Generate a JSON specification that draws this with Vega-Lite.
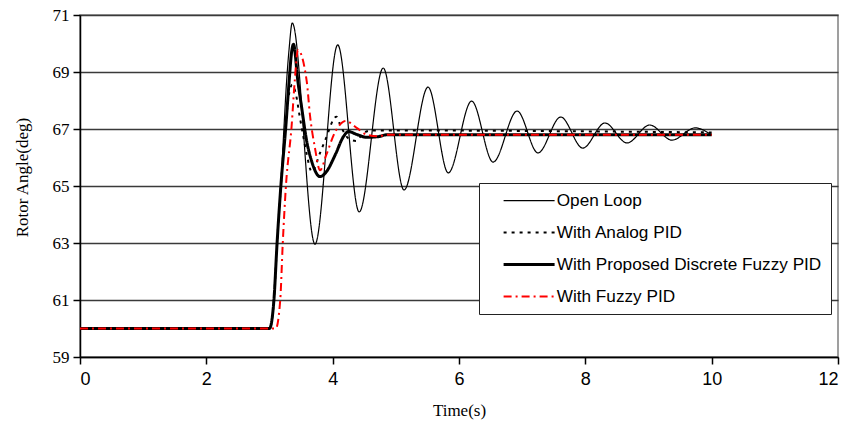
{
  "$schema": "https://vega.github.io/schema/vega-lite/v6.json",
  "width": 758,
  "height": 342,
  "autosize": {"type": "none"},
  "padding": {"left": 80, "top": 15, "right": 13, "bottom": 72},
  "background": "white",
  "config": {
    "view": {"stroke": "#808080", "strokeWidth": 1.5},
    "axis": {"labelColor": "black", "titleColor": "black", "domainColor": "black", "tickColor": "black", "domainWidth": 1.5, "tickWidth": 1.5, "tickSize": 7, "titleFontWeight": "normal"},
    "legend": {"orient": "none", "legendX": 399, "legendY": 168, "title": null, "strokeColor": "#222", "fillColor": "white", "padding": 9, "symbolType": "M-4.25,0H4.25", "symbolSize": 144, "symbolOffset": 32.5, "labelFont": "Liberation Sans", "labelFontSize": 17.2, "labelColor": "black", "labelOffset": 19, "rowPadding": 14, "labelLimit": 400}
  },
  "datasets": {
    "curves": [
      {"t": 0, "v": 60, "s": "Open Loop"},
      {"t": 3.0, "v": 60, "s": "Open Loop"},
      {"t": 3.07, "v": 61, "s": "Open Loop"},
      {"t": 3.12, "v": 63, "s": "Open Loop"},
      {"t": 3.18, "v": 65, "s": "Open Loop"},
      {"t": 3.23, "v": 67.1, "s": "Open Loop"},
      {"t": 3.27, "v": 68.65, "s": "Open Loop"},
      {"t": 3.31, "v": 69.8, "s": "Open Loop"},
      {"t": 3.36, "v": 70.72, "s": "Open Loop"},
      {"t": 3.72, "v": 62.96, "s": "Open Loop"},
      {"t": 4.08, "v": 69.95, "s": "Open Loop"},
      {"t": 4.42, "v": 64.09, "s": "Open Loop"},
      {"t": 4.80, "v": 69.14, "s": "Open Loop"},
      {"t": 5.13, "v": 64.86, "s": "Open Loop"},
      {"t": 5.51, "v": 68.47, "s": "Open Loop"},
      {"t": 5.83, "v": 65.46, "s": "Open Loop"},
      {"t": 6.2, "v": 67.98, "s": "Open Loop"},
      {"t": 6.54, "v": 65.84, "s": "Open Loop"},
      {"t": 6.92, "v": 67.63, "s": "Open Loop"},
      {"t": 7.25, "v": 66.16, "s": "Open Loop"},
      {"t": 7.61, "v": 67.42, "s": "Open Loop"},
      {"t": 7.96, "v": 66.33, "s": "Open Loop"},
      {"t": 8.31, "v": 67.21, "s": "Open Loop"},
      {"t": 8.66, "v": 66.51, "s": "Open Loop"},
      {"t": 9.02, "v": 67.14, "s": "Open Loop"},
      {"t": 9.37, "v": 66.61, "s": "Open Loop"},
      {"t": 9.74, "v": 67.04, "s": "Open Loop"},
      {"t": 10.0, "v": 66.79, "s": "Open Loop"},

      {"t": 0, "v": 60, "s": "With Analog PID"},
      {"t": 3.0, "v": 60, "s": "With Analog PID"},
      {"t": 3.07, "v": 61, "s": "With Analog PID"},
      {"t": 3.12, "v": 63, "s": "With Analog PID"},
      {"t": 3.18, "v": 65, "s": "With Analog PID"},
      {"t": 3.25, "v": 67.0, "s": "With Analog PID"},
      {"t": 3.30, "v": 68.1, "s": "With Analog PID"},
      {"t": 3.36, "v": 68.55, "s": "With Analog PID"},
      {"t": 3.42, "v": 68.2, "s": "With Analog PID"},
      {"t": 3.47, "v": 67.55, "s": "With Analog PID"},
      {"t": 3.53, "v": 66.8, "s": "With Analog PID"},
      {"t": 3.59, "v": 66.1, "s": "With Analog PID"},
      {"t": 3.67, "v": 65.5, "s": "With Analog PID"},
      {"t": 3.80, "v": 66.16, "s": "With Analog PID"},
      {"t": 3.88, "v": 66.6, "s": "With Analog PID"},
      {"t": 4.06, "v": 67.43, "s": "With Analog PID"},
      {"t": 4.12, "v": 67.14, "s": "With Analog PID"},
      {"t": 4.25, "v": 66.67, "s": "With Analog PID"},
      {"t": 4.37, "v": 66.58, "s": "With Analog PID"},
      {"t": 4.48, "v": 66.85, "s": "With Analog PID"},
      {"t": 4.62, "v": 66.95, "s": "With Analog PID"},
      {"t": 10.0, "v": 66.88, "s": "With Analog PID"},

      {"t": 0, "v": 60, "s": "With Proposed Discrete Fuzzy PID"},
      {"t": 3.0, "v": 60, "s": "With Proposed Discrete Fuzzy PID"},
      {"t": 3.07, "v": 61, "s": "With Proposed Discrete Fuzzy PID"},
      {"t": 3.12, "v": 63, "s": "With Proposed Discrete Fuzzy PID"},
      {"t": 3.18, "v": 65, "s": "With Proposed Discrete Fuzzy PID"},
      {"t": 3.26, "v": 67.14, "s": "With Proposed Discrete Fuzzy PID"},
      {"t": 3.31, "v": 68.66, "s": "With Proposed Discrete Fuzzy PID"},
      {"t": 3.35, "v": 69.7, "s": "With Proposed Discrete Fuzzy PID"},
      {"t": 3.38, "v": 69.97, "s": "With Proposed Discrete Fuzzy PID"},
      {"t": 3.45, "v": 68.66, "s": "With Proposed Discrete Fuzzy PID"},
      {"t": 3.51, "v": 67.74, "s": "With Proposed Discrete Fuzzy PID"},
      {"t": 3.59, "v": 66.56, "s": "With Proposed Discrete Fuzzy PID"},
      {"t": 3.67, "v": 65.85, "s": "With Proposed Discrete Fuzzy PID"},
      {"t": 3.80, "v": 65.33, "s": "With Proposed Discrete Fuzzy PID"},
      {"t": 3.90, "v": 65.5, "s": "With Proposed Discrete Fuzzy PID"},
      {"t": 4.04, "v": 66.09, "s": "With Proposed Discrete Fuzzy PID"},
      {"t": 4.17, "v": 66.73, "s": "With Proposed Discrete Fuzzy PID"},
      {"t": 4.25, "v": 66.91, "s": "With Proposed Discrete Fuzzy PID"},
      {"t": 4.38, "v": 66.81, "s": "With Proposed Discrete Fuzzy PID"},
      {"t": 4.54, "v": 66.71, "s": "With Proposed Discrete Fuzzy PID"},
      {"t": 4.72, "v": 66.73, "s": "With Proposed Discrete Fuzzy PID"},
      {"t": 4.86, "v": 66.8, "s": "With Proposed Discrete Fuzzy PID"},
      {"t": 10.0, "v": 66.8, "s": "With Proposed Discrete Fuzzy PID"},

      {"t": 0, "v": 60, "s": "With Fuzzy PID"},
      {"t": 3.1, "v": 60, "s": "With Fuzzy PID"},
      {"t": 3.17, "v": 61, "s": "With Fuzzy PID"},
      {"t": 3.21, "v": 63, "s": "With Fuzzy PID"},
      {"t": 3.26, "v": 65, "s": "With Fuzzy PID"},
      {"t": 3.35, "v": 67.1, "s": "With Fuzzy PID"},
      {"t": 3.40, "v": 68.7, "s": "With Fuzzy PID"},
      {"t": 3.45, "v": 69.77, "s": "With Fuzzy PID"},
      {"t": 3.59, "v": 68.66, "s": "With Fuzzy PID"},
      {"t": 3.64, "v": 67.5, "s": "With Fuzzy PID"},
      {"t": 3.72, "v": 66.33, "s": "With Fuzzy PID"},
      {"t": 3.80, "v": 65.55, "s": "With Fuzzy PID"},
      {"t": 3.90, "v": 66.1, "s": "With Fuzzy PID"},
      {"t": 4.04, "v": 66.9, "s": "With Fuzzy PID"},
      {"t": 4.21, "v": 67.28, "s": "With Fuzzy PID"},
      {"t": 4.38, "v": 67.04, "s": "With Fuzzy PID"},
      {"t": 4.54, "v": 66.8, "s": "With Fuzzy PID"},
      {"t": 4.7, "v": 66.75, "s": "With Fuzzy PID"},
      {"t": 4.9, "v": 66.8, "s": "With Fuzzy PID"},
      {"t": 10.0, "v": 66.8, "s": "With Fuzzy PID"}
    ]
  },
  "data": {"name": "curves"},
  "mark": {"type": "line", "interpolate": "monotone"},
  "encoding": {
    "x": {
      "field": "t", "type": "quantitative",
      "scale": {"domain": [0, 12], "nice": false, "zero": false},
      "axis": {"title": "Time(s)", "values": [0, 2, 4, 6, 8, 10, 12], "grid": false,
        "labelFont": "Liberation Sans", "labelFontSize": 18, "labelPadding": 6,
        "titleFont": "Liberation Serif", "titleFontSize": 17, "titleY": 53, "titleBaseline": "middle"}
    },
    "y": {
      "field": "v", "type": "quantitative",
      "scale": {"domain": [59, 71], "nice": false, "zero": false},
      "axis": {"title": "Rotor Angle(deg)", "values": [59, 61, 63, 65, 67, 69, 71], "grid": true,
        "gridColor": "#3a3a3a", "gridWidth": 1.3,
        "labelFont": "Liberation Serif", "labelFontSize": 17, "labelPadding": 4,
        "titleFont": "Liberation Serif", "titleFontSize": 17, "titleX": -58, "titleY": 162, "titleBaseline": "middle"}
    },
    "color": {
      "field": "s", "type": "nominal",
      "scale": {"domain": ["Open Loop", "With Analog PID", "With Proposed Discrete Fuzzy PID", "With Fuzzy PID"], "range": ["black", "black", "black", "red"]}
    },
    "strokeDash": {
      "field": "s", "type": "nominal",
      "scale": {"domain": ["Open Loop", "With Analog PID", "With Proposed Discrete Fuzzy PID", "With Fuzzy PID"], "range": [[1, 0], [3, 5], [1, 0], [8, 4, 2, 4]]}
    },
    "strokeWidth": {
      "field": "s", "type": "nominal",
      "scale": {"type": "ordinal", "domain": ["Open Loop", "With Analog PID", "With Proposed Discrete Fuzzy PID", "With Fuzzy PID"], "range": [1.2, 2, 3, 2]}
    }
  }
}
